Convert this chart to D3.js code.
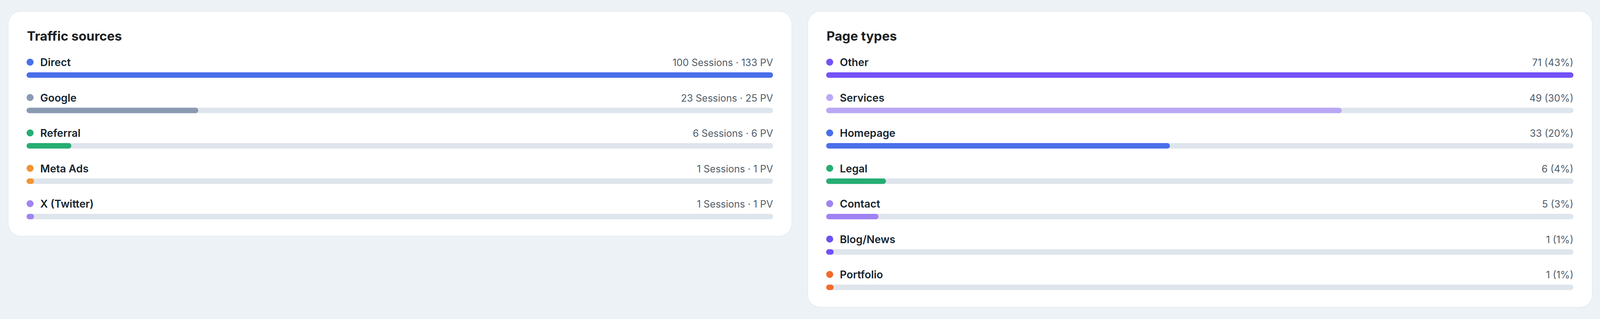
<!DOCTYPE html>
<meta charset="utf-8">
<style>
body{
    margin: 0;
    background: #edf2f6;
}
svg text{
    font-family: Inter, "Noto Sans", sans-serif;
}
.title{
    font-size: 33px;
    font-weight: 700;
    fill: #1b1f23;
}
.label{
    font-size: 27px;
    font-weight: 600;
    fill: #15232e;
}
.value{
    font-size: 25px;
    font-weight: 400;
    fill: #4f5d6b;
}
</style>
<body>
<script src="https://d3js.org/d3.v7.min.js"></script>
<script>

// traffic sources
var sources = ["Direct", "Google", "Referral", "Meta Ads", "X (Twitter)"];
var sourceSessions = [100, 23, 6, 1, 1];
var sourcePageviews = [133, 25, 6, 1, 1];
var sourceColors = ["#4a6fea", "#8a9ab0", "#25ad72", "#f2942f", "#a083f2"];

// page types
var pageTypes = ["Other", "Services", "Homepage", "Legal", "Contact", "Blog/News", "Portfolio"];
var pageCounts = [71, 49, 33, 6, 5, 1, 1];
var pagePercents = [43, 30, 20, 4, 3, 1, 1];
var pageColors = ["#7352f5", "#bba8f5", "#4a6fea", "#25ad72", "#a083f2", "#7050f5", "#f36a2b"];

var width = 4106,
    height = 816;

var pad = 48,
    rowStep = 90.5,
    barH = 14;

var svg = d3.select("body").append("svg")
    .attr("width", width)
    .attr("height", height);

function card(x0, cardW, cardH, title, cats, values, labels, colors) {
    var g = svg.append("g")
        .attr("transform", "translate(" + x0 + ",28)");

    g.append("rect")
        .attr("x", 0.75).attr("y", 0.75)
        .attr("width", cardW - 1.5)
        .attr("height", cardH - 1.5)
        .attr("rx", 32)
        .attr("fill", "#fff")
        .attr("stroke", "#e1e7ed")
        .attr("stroke-width", 1.5);

    g.append("text")
        .attr("class", "title")
        .attr("x", pad + 1)
        .attr("y", 76)
        .text(title);

    var x = d3.scaleLinear()
        .domain([0, 100])
        .range([0, cardW - 2 * pad - 1]);

    var y = d3.scaleBand()
        .domain(cats)
        .range([157, 157 + rowStep * cats.length]);

    var color = d3.scaleOrdinal()
        .domain(cats)
        .range(colors);

    var max = d3.max(values);

    var rows = g.selectAll(".row")
        .data(cats)
      .enter().append("g")
        .attr("class", "row")
        .attr("transform", d => "translate(" + pad + "," + y(d) + ")");

    rows.append("circle")
        .attr("cx", 9)
        .attr("cy", -26)
        .attr("r", 9)
        .attr("fill", d => color(d));

    rows.append("text")
        .attr("class", "label")
        .attr("x", 35)
        .attr("y", -16)
        .text(d => d);

    rows.append("text")
        .attr("class", "value")
        .attr("x", x(100))
        .attr("y", -16)
        .attr("text-anchor", "end")
        .text((d, i) => labels[i]);

    rows.append("rect")
        .attr("width", x(100))
        .attr("height", barH)
        .attr("rx", barH / 2)
        .attr("fill", "#dfe5ec");

    // bar length is the rounded share of the largest value
    rows.append("rect")
        .attr("width", (d, i) => x(Math.max(1, Math.round(values[i] / max * 100))))
        .attr("height", barH)
        .attr("rx", barH / 2)
        .attr("fill", d => color(d));
}

card(20, 2008, 577, "Traffic sources", sources, sourceSessions,
    sources.map((d, i) => sourceSessions[i] + " Sessions \u00b7 " + sourcePageviews[i] + " PV"),
    sourceColors);

card(2067, 2010, 759, "Page types", pageTypes, pageCounts,
    pageTypes.map((d, i) => pageCounts[i] + " (" + pagePercents[i] + "%)"),
    pageColors);

</script>
